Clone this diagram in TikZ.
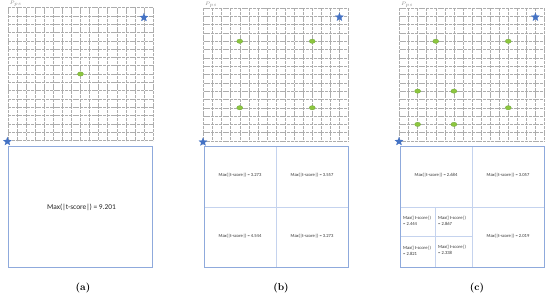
\documentclass[tikz,border=0pt]{standalone}
\usepackage{fontspec}
\newfontfamily\calib{Carlito}
\usetikzlibrary{shapes.geometric}
\definecolor{starblue}{HTML}{4472C4}
\definecolor{dotgreen}{HTML}{8DC63F}
\definecolor{dotedge}{HTML}{6FA83A}
\definecolor{boxblue}{HTML}{8FAADC}
\definecolor{innerblue}{HTML}{C5D3EE}
\tikzset{
  gridline/.style={draw=black!32, line width=0.45pt, dash pattern=on 3pt off 0.8pt},
  bstar/.style={star, star points=5, star point ratio=2.3, fill=starblue, draw=starblue, line width=0.2pt, inner sep=0pt, minimum size=8.5pt},
  gdot/.style={ellipse, fill=dotgreen, draw=dotedge, line width=0.3pt, inner sep=0pt, minimum width=6pt, minimum height=4.3pt},
  outerbox/.style={draw=boxblue, line width=0.9pt},
  innerline/.style={draw=innerblue, line width=0.6pt},
  bigtxt/.style={font=\calib\fontsize{7.4}{8}\selectfont, text=black!85, inner sep=0pt},
  smalltxt/.style={font=\calib\fontsize{4.6}{6}\selectfont, text=black!80, inner sep=0pt},
  celltxt/.style={font=\calib\fontsize{4.6}{6.2}\selectfont, text=black!80, inner sep=0pt, align=left, anchor=west},
  captxt/.style={font=\bfseries\fontsize{10}{12}\selectfont, inner sep=0pt},
  pstxt/.style={font=\calib\fontsize{3}{3.5}\selectfont, text=black!45, inner sep=0pt}
}
\newcommand\drawgrid{%
  \foreach \i in {0,...,16} {
    \draw[gridline] (\i*9.0625,0) -- (\i*9.0625,133);
    \draw[gridline] (0,\i*8.3125) -- (145,\i*8.3125);
  }%
}
\begin{document}
\begin{tikzpicture}[x=1pt,y=-1pt]
\useasboundingbox (0,0) rectangle (550,298);
\fill[white] (0,0) rectangle (550,298);

% ---------- panel (a)
\begin{scope}[shift={(8,7.5)}]
  \drawgrid
  \node[pstxt, anchor=south west] (psa) at (1.5,-0.8) {$P_{ps}$};
  \node[gdot] (da1) at (8*9.0625,8*8.3125) {};
  \node[bstar] (sa1) at (15*9.0625,1.2*8.3125) {};
  \node[bstar] (sa2) at (-0.6,134) {};
\end{scope}
\draw[outerbox] (8.5,146) rectangle (152,267);
\node[bigtxt] (ta) at (81.5,207.5) {Max(|t-score|) = 9.201};
\node[captxt] (ca) at (83,288) {(a)};

% ---------- panel (b)
\begin{scope}[shift={(203.5,8)}]
  \drawgrid
  \node[pstxt, anchor=south west] (psb) at (1.5,-0.8) {$P_{ps}$};
  \node[gdot] (db1) at (4*9.0625,4*8.3125) {};
  \node[gdot] (db2) at (12*9.0625,4*8.3125) {};
  \node[gdot] (db3) at (4*9.0625,12*8.3125) {};
  \node[gdot] (db4) at (12*9.0625,12*8.3125) {};
  \node[bstar] (sb1) at (15*9.0625,1.1*8.3125) {};
  \node[bstar] (sb2) at (-0.5,134) {};
\end{scope}
\draw[innerline] (276,146) -- (276,267);
\draw[innerline] (204,207) -- (348,207);
\draw[outerbox] (204.5,146) rectangle (348,267);
\node[smalltxt] (tb1) at (240,175) {Max(|t-score|) = 3.273};
\node[smalltxt] (tb2) at (312,175) {Max(|t-score|) = 3.557};
\node[smalltxt] (tb3) at (240,236.5) {Max(|t-score|) = 4.544};
\node[smalltxt] (tb4) at (312,236.5) {Max(|t-score|) = 3.273};
\node[captxt] (cb) at (281,288) {(b)};

% ---------- panel (c)
\begin{scope}[shift={(399.5,8)}]
  \drawgrid
  \node[pstxt, anchor=south west] (psc) at (1.5,-0.8) {$P_{ps}$};
  \node[gdot] (dc1) at (4*9.0625,4*8.3125) {};
  \node[gdot] (dc2) at (12*9.0625,4*8.3125) {};
  \node[gdot] (dc3) at (2*9.0625,10*8.3125) {};
  \node[gdot] (dc4) at (6*9.0625,10*8.3125) {};
  \node[gdot] (dc5) at (12*9.0625,12*8.3125) {};
  \node[gdot] (dc6) at (2*9.0625,14*8.3125) {};
  \node[gdot] (dc7) at (6*9.0625,14*8.3125) {};
  \node[bstar] (sc1) at (15*9.0625,1.1*8.3125) {};
  \node[bstar] (sc2) at (-0.5,133.5) {};
\end{scope}
\draw[innerline] (472,146) -- (472,267);
\draw[innerline] (400,207) -- (544,207);
\draw[innerline] (435,207) -- (435,267);
\draw[innerline] (400,236.5) -- (472,236.5);
\draw[outerbox] (400.5,146) rectangle (544,267);
\node[smalltxt] (tc1) at (436,175) {Max(|t-score|) = 2.684};
\node[smalltxt] (tc2) at (508,175) {Max(|t-score|) = 3.057};
\node[smalltxt] (tc3) at (508,236.5) {Max(|t-score|) = 2.019};
\node[celltxt] (tc4) at (403,220.5) {Max(|t-score|)\\= 2.444};
\node[celltxt] (tc5) at (438,220.5) {Max(|t-score|)\\= 2.867};
\node[celltxt] (tc6) at (403,251) {Max(|t-score|)\\= 2.821};
\node[celltxt] (tc7) at (438,250) {Max(|t-score|)\\= 2.338};
\node[captxt] (cc) at (477,288) {(c)};
\end{tikzpicture}
\end{document}
